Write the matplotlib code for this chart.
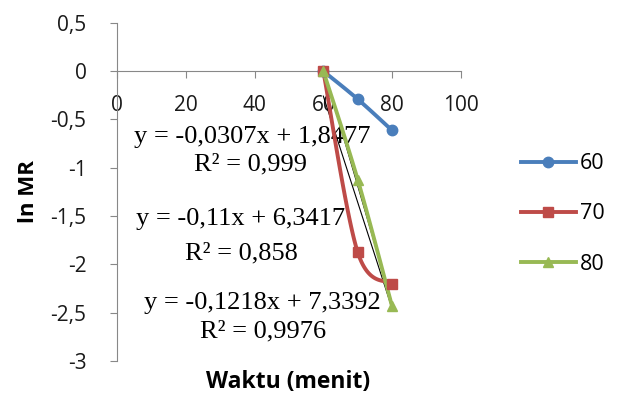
import numpy as np
import matplotlib.pyplot as plt

# waktu (menit) dan ln MR tiap suhu
waktu = [60, 70, 80]
ln_mr_60 = [0, -0.29, -0.614]
ln_mr_70 = [0, -1.875, -2.2]
ln_mr_80 = [0, -1.124, -2.436]

# persamaan regresi linear (slope, intercept) dan R2
fit_60 = (-0.0307, 1.8477, 0.999)
fit_70 = (-0.11, 6.3417, 0.858)
fit_80 = (-0.1218, 7.3392, 0.9976)

labels = ['60', '70', '80']
colors = ['#4A7EBB', '#BE4B48', '#98B954']
markers = ['o', 's', '^']

sans = 'Open Sans'


def smooth(x, y, n=40):
    # kurva halus gaya excel (bezier dengan titik kontrol catmull-rom)
    x = np.asarray(x, float)
    y = np.asarray(y, float)
    p = np.column_stack([x, y])
    out = []
    for i in range(len(p) - 1):
        p0 = p[i - 1] if i > 0 else p[i]
        p3 = p[i + 2] if i + 2 < len(p) else p[i + 1]
        c1 = p[i] + (p[i + 1] - p0) / 6
        c2 = p[i + 1] - (p3 - p[i]) / 6
        t = np.linspace(0, 1, n)[:, None]
        seg = ((1 - t) ** 3 * p[i] + 3 * (1 - t) ** 2 * t * c1
               + 3 * (1 - t) * t ** 2 * c2 + t ** 3 * p[i + 1])
        out.append(seg)
    s = np.vstack(out)
    return s[:, 0], s[:, 1]


def koma(v):
    return ('%g' % v).replace('.', ',')


fig = plt.figure(figsize=(6.22, 3.94), dpi=100)
ax = fig.add_axes([0.188, 0.084, 0.553, 0.858])

for ys, lab, c, m in zip([ln_mr_60, ln_mr_70, ln_mr_80], labels, colors, markers):
    sx, sy = smooth(waktu, ys)
    ax.plot(sx, sy, color=c, lw=2.8, zorder=3)
    ax.plot(waktu, ys, ls='none', marker=m, ms=7.5, color=c, zorder=4)
    ax.plot([], [], color=c, lw=2.8, marker=m, ms=7.5, label=lab)

# garis trend
xt = np.array([60, 80])
for a, b, r2 in [fit_60, fit_70, fit_80]:
    ax.plot(xt, a * xt + b, color='black', lw=0.8, zorder=2)

ax.set_xlim(0, 100)
ax.set_ylim(-3, 0.5)
ax.set_xticks(np.arange(0, 101, 20))
ax.set_yticks(np.arange(-3, 0.51, 0.5))
ax.set_yticklabels([koma(v) for v in np.arange(-3, 0.51, 0.5)])

ax.spines['top'].set_visible(False)
ax.spines['right'].set_visible(False)
ax.spines['bottom'].set_position(('data', 0))
ax.spines['left'].set_color('#888888')
ax.spines['bottom'].set_color('#888888')
ax.tick_params(axis='both', colors='#888888', labelcolor='#1a1a1a',
               labelsize=15, length=5, width=0.8)
ax.tick_params(axis='x', pad=12)
ax.tick_params(axis='y', pad=17)
for t in ax.get_xticklabels() + ax.get_yticklabels():
    t.set_family(sans)

ax.set_ylabel('ln MR', fontsize=16, fontweight='bold', family=sans, labelpad=8)
fig.text(0.463, 0.03, 'Waktu (menit)', fontsize=16.5, fontweight='bold',
         family=sans, ha='center', va='center')

# teks persamaan regresi
eq_pos = [(39.2, -0.683, 38.7, -0.963),
          (36.0, -1.532, 36.3, -1.884),
          (42.2, -2.40, 42.4, -2.69)]
for (a, b, r2), (x1, y1, x2, y2) in zip([fit_60, fit_70, fit_80], eq_pos):
    ax.text(x1, y1, 'y = %sx + %s' % (koma(a), koma(b)), ha='center', va='center',
            fontsize=19, family='Liberation Serif', zorder=1)
    ax.text(x2, y2, 'R² = %s' % koma(r2), ha='center', va='center',
            fontsize=19, family='Liberation Serif', zorder=1)

leg = fig.legend(loc='center left', bbox_to_anchor=(0.8376, 0.457), frameon=False,
                 borderpad=0, borderaxespad=0, handlelength=2.55,
                 labelspacing=1.35, handletextpad=0.2,
                 prop={'family': sans, 'size': 15.5})

fig.savefig('out.png', dpi=100)
